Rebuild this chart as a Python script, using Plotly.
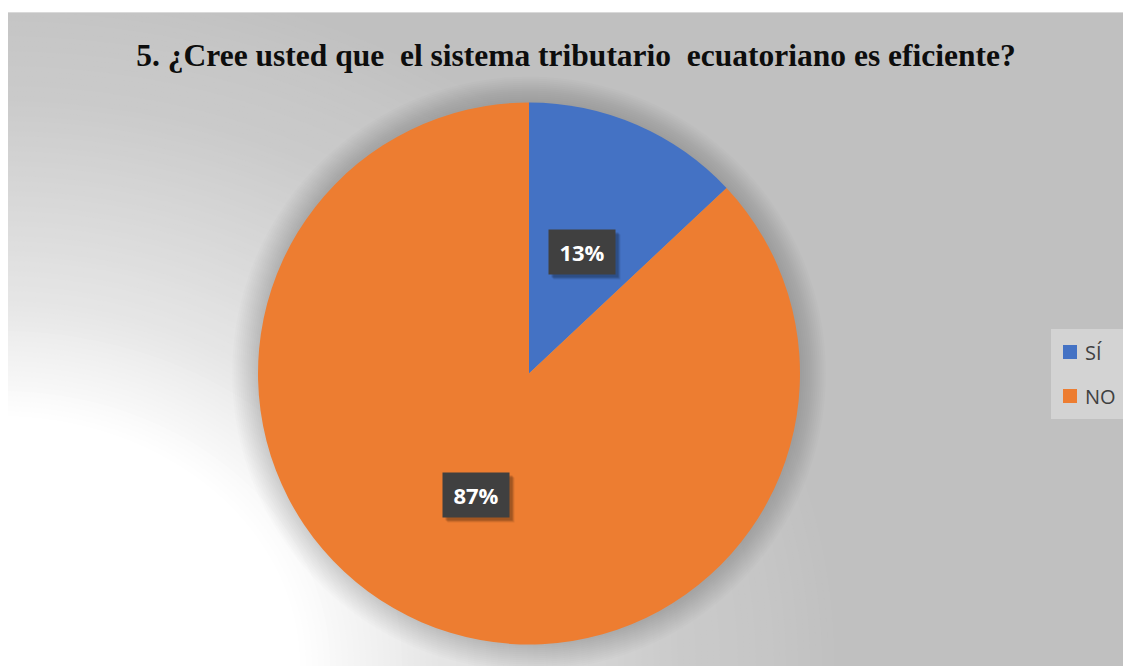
import numpy as np
import plotly.graph_objects as go

# data
labels = ['SÍ', 'NO']
values = [13, 87]
colors = ['#4472C4', '#ED7D31']
title_text = '5. ¿Cree usted que  el sistema tributario  ecuatoriano es eficiente?'

W, H = 1131, 666
OFF = 8  # page body margin: window pixel -> figure pixel


def fx(x):
    return (x - OFF) / W


def fy(y):
    return 1 - (y - OFF) / H


fig = go.Figure()

cx, cy, R = 529, 373.5, 271

fig.add_trace(go.Pie(
    labels=labels,
    values=values,
    marker=dict(colors=colors, line=dict(width=0)),
    sort=False,
    direction='clockwise',
    rotation=0,
    textinfo='none',
    hoverinfo='label+percent',
    showlegend=False,
    domain=dict(x=[fx(cx - R), fx(cx + R)], y=[fy(cy + R), fy(cy - R)])
))

shapes = []
# chart area background
shapes.append(dict(type='rect', xref='paper', yref='paper', layer='below',
                   x0=fx(6), x1=1.01, y0=-0.01, y1=fy(12),
                   fillcolor='#c0c0c0', line=dict(width=0)))

# elliptical gradient from the bottom-left corner, stepped
gx, gy, stretch = 0, 666, 1.2
r_pts = [250, 366, 566, 654, 700]
f_pts = [1.0, 0.6, 0.17, 0.08, 0.0]
for r in np.arange(700, 240, -5):
    f = np.interp(r, r_pts, f_pts)
    g = int(round(192 + 63 * f))
    shapes.append(dict(type='circle', xref='paper', yref='paper', layer='below',
                       x0=fx(gx - stretch * r), x1=fx(gx + stretch * r),
                       y0=fy(gy + r), y1=fy(gy - r),
                       fillcolor=f'rgb({g},{g},{g})', line=dict(width=0)))

# soft shadow around the pie
for k in range(26, 0, -2):
    shapes.append(dict(type='circle', xref='paper', yref='paper', layer='below',
                       x0=fx(cx - R - k), x1=fx(cx + R + k),
                       y0=fy(cy + R + k), y1=fy(cy - R - k),
                       fillcolor='rgba(0,0,0,0.01)', line=dict(width=0)))

# top white margin and frame edge
shapes.append(dict(type='rect', xref='paper', yref='paper', layer='below',
                   x0=-0.02, x1=1.02, y0=fy(12), y1=1.02,
                   fillcolor='white', line=dict(width=0)))
shapes.append(dict(type='line', xref='paper', yref='paper', layer='below',
                   x0=fx(6), x1=1.01, y0=fy(12.5), y1=fy(12.5),
                   line=dict(color='#d9d9d9', width=1)))

# legend box
shapes.append(dict(type='rect', xref='paper', yref='paper', layer='below',
                   x0=fx(1051), x1=fx(1125), y0=fy(419), y1=fy(329),
                   fillcolor='#d3d3d3', line=dict(width=0)))

annotations = []
legend_y = [352, 396]
for lab, col, ly in zip(labels, colors, legend_y):
    shapes.append(dict(type='rect', xref='paper', yref='paper',
                       x0=fx(1063), x1=fx(1077), y0=fy(ly + 7), y1=fy(ly - 7),
                       fillcolor=col, line=dict(width=0)))
    annotations.append(dict(xref='paper', yref='paper', x=fx(1083), y=fy(ly),
                            xanchor='left', yanchor='middle', showarrow=False,
                            text=lab, font=dict(family='Open Sans', size=20, color='#404040')))

# data labels in dark boxes, at half radius on each slice's mid-angle
total = sum(values)
start = 0.0
for v in values:
    frac = v / total
    mid = (start + frac / 2) * 2 * np.pi
    start += frac
    lx = cx + 0.49 * R * np.sin(mid)
    ly = cy - 0.49 * R * np.cos(mid)
    txt = f'{round(100 * frac)}%'
    for d, a in [(5, 0.08), (4, 0.12), (3, 0.15)]:
        annotations.append(dict(xref='paper', yref='paper', x=fx(lx + d), y=fy(ly + d),
                                xanchor='center', yanchor='middle', showarrow=False,
                                text=' ', width=64, height=42,
                                bgcolor=f'rgba(0,0,0,{a})'))
    annotations.append(dict(xref='paper', yref='paper', x=fx(lx), y=fy(ly),
                            xanchor='center', yanchor='middle', showarrow=False,
                            text=f'<b>{txt}</b>', width=64, height=42,
                            bgcolor='#404040',
                            font=dict(family='Open Sans', size=22, color='white')))

fig.update_layout(
    width=W,
    height=H,
    margin=dict(l=0, r=0, t=0, b=0),
    paper_bgcolor='white',
    plot_bgcolor='white',
    title=dict(text=f'<b>{title_text}</b>', x=fx(576), y=fy(55),
               xanchor='center', yanchor='middle',
               font=dict(family='Liberation Serif', size=31.5, color='#0d0d0d')),
    shapes=shapes,
    annotations=annotations,
    showlegend=False
)

fig.write_html('out.html')
